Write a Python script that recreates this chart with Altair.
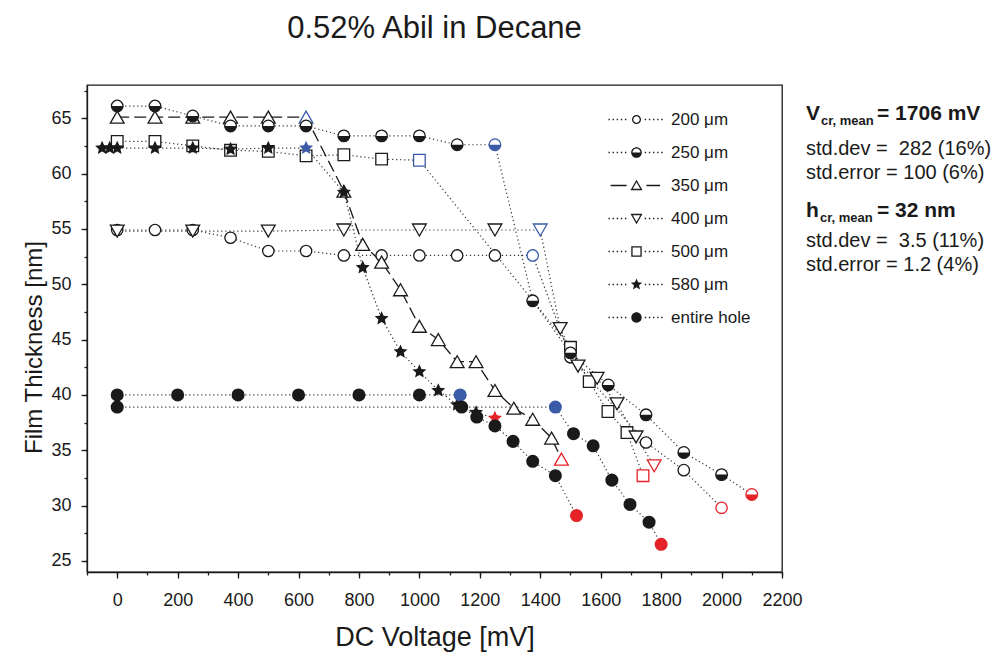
import altair as alt
import pandas as pd
import math

# ---------------- data ----------------
v200 = [0, 125, 250, 375, 500, 625, 750, 875, 1000, 1125, 1250, 1375, 1500, 1750, 1875, 2000]
h200 = [54.9, 54.9, 54.9, 54.2, 53.0, 53.0, 52.6, 52.6, 52.6, 52.6, 52.6, 52.6, 43.4, 35.7, 33.2, 29.8]
s200 = ['n'] * 11 + ['b'] + ['n'] * 3 + ['r']

v250 = [0, 125, 250, 375, 500, 625, 750, 875, 1000, 1125, 1250, 1375, 1500, 1625, 1750, 1875, 2000, 2100]
h250 = [66.1, 66.1, 65.2, 64.3, 64.3, 64.3, 63.4, 63.4, 63.4, 62.6, 62.6, 48.5, 43.8, 40.9, 38.2, 34.8, 32.8, 31.0]
s250 = ['n'] * 10 + ['b'] + ['n'] * 6 + ['r']

v350 = [0, 125, 250, 375, 500, 625, 750, 812.5, 875, 937.5, 1000, 1062.5, 1125, 1187.5, 1250, 1312.5, 1375, 1437.5, 1470]
h350 = [65.1, 65.1, 65.1, 65.1, 65.1, 65.1, 58.4, 53.6, 52.0, 49.5, 46.2, 45.0, 43.0, 43.0, 40.4, 38.8, 37.8, 36.1, 34.2]
s350 = ['n'] * 5 + ['b'] + ['n'] * 12 + ['r']

v400 = [0, 250, 500, 750, 1000, 1250, 1400, 1466, 1525, 1588, 1654, 1717, 1777]
h400 = [54.8, 54.8, 54.8, 54.9, 54.9, 54.9, 54.9, 46.0, 42.6, 41.5, 39.2, 36.2, 33.6]
s400 = ['n'] * 6 + ['b'] + ['n'] * 5 + ['r']

v500 = [0, 125, 250, 375, 500, 625, 750, 875, 1000, 1500, 1562, 1624, 1687, 1740]
h500 = [62.9, 62.9, 62.5, 62.1, 62.0, 61.6, 61.7, 61.3, 61.2, 44.3, 41.2, 38.5, 36.6, 32.7]
s500 = ['n'] * 8 + ['b'] + ['n'] * 4 + ['r']

v580 = [-50, -25, 0, 125, 250, 375, 500, 625, 750, 812.5, 875, 937.5, 1000, 1062.5, 1125, 1187.5, 1250]
h580 = [62.3, 62.3, 62.3, 62.3, 62.3, 62.2, 62.3, 62.3, 58.3, 51.5, 46.9, 43.9, 42.1, 40.4, 39.1, 38.4, 37.9]
s580 = ['n'] * 7 + ['b'] + ['n'] * 8 + ['r']

vholeA = [0, 200, 400, 600, 800, 1000, 1135, 1140, 1190, 1250, 1310, 1375, 1450, 1520]
hholeA = [40.0, 40.0, 40.0, 40.0, 40.0, 40.0, 40.0, 38.9, 38.0, 37.2, 35.8, 34.0, 32.7, 29.1]
sholeA = ['n'] * 6 + ['b'] + ['n'] * 6 + ['r']

vholeB = [0, 1450, 1510, 1575, 1637, 1697, 1760, 1800]
hholeB = [38.9, 38.9, 36.5, 35.4, 32.3, 30.1, 28.5, 26.5]
sholeB = ['n', 'b', 'n', 'n', 'n', 'n', 'n', 'r']

legend_labels = ['200 μm', '250 μm', '350 μm', '400 μm', '500 μm', '580 μm', 'entire hole']

x_major = list(range(0, 2201, 200))
x_minor = list(range(-100, 2201, 100))
y_major = list(range(25, 66, 5))
y_minor = [25 + 2.5 * i for i in range(18)]

series = [
    ('s200', '200 μm', v200, h200, s200),
    ('s250', '250 μm', v250, h250, s250),
    ('s350', '350 μm', v350, h350, s350),
    ('s400', '400 μm', v400, h400, s400),
    ('s500', '500 μm', v500, h500, s500),
    ('s580', '580 μm', v580, h580, s580),
    ('holeA', 'entire hole', vholeA, hholeA, sholeA),
    ('holeB', 'entire hole', vholeB, hholeB, sholeB),
]
rows = []
for key, label, vs, hs, ss in series:
    for i, (v, h, s) in enumerate(zip(vs, hs, ss)):
        rows.append(dict(series=key, label=label, v=v, h=h, state=s, order=i))
df = pd.DataFrame(rows)

# ---------------- styling ----------------
FONT = 'Liberation Sans'
BLACK = '#1a1a1a'
BLUE = '#3b5ba8'
RED = '#e52228'


# ---- custom symbol paths (unit coordinates) ----
def poly(pts):
    return 'M ' + ' L '.join(f'{x:.3f} {y:.3f}' for x, y in pts) + ' Z'


def inset(pts, w):
    n = len(pts)
    area = sum(pts[i][0] * pts[(i + 1) % n][1] - pts[(i + 1) % n][0] * pts[i][1] for i in range(n)) / 2
    lines = []
    for i in range(n):
        x1, y1 = pts[i]
        x2, y2 = pts[(i + 1) % n]
        dx, dy = x2 - x1, y2 - y1
        L = (dx * dx + dy * dy) ** 0.5
        nx, ny = -dy / L, dx / L
        if area < 0:
            nx, ny = -nx, -ny
        lines.append((x1 + nx * w, y1 + ny * w, dx, dy))
    out = []
    for i in range(n):
        ax, ay, adx, ady = lines[i - 1]
        bx, by, bdx, bdy = lines[i]
        den = adx * bdy - ady * bdx
        t = ((bx - ax) * bdy - (by - ay) * bdx) / den
        out.append((ax + adx * t, ay + ady * t))
    return out


def ring(pts, w):
    return poly(pts) + ' ' + poly(list(reversed(inset(pts, w))))


def circ(r, sweep):
    return f'M {r:.3f} 0 A {r:.3f} {r:.3f} 0 1 {sweep} {-r:.3f} 0 A {r:.3f} {r:.3f} 0 1 {sweep} {r:.3f} 0 Z'


def circ_ring(r, w):
    return circ(r, 1) + ' ' + circ(r - w, 0)


def dots(x0, x1, step=0.75, d=0.25):
    out = []
    x = x0
    while x <= x1 + 1e-9:
        out.append(poly([(x, -d / 2), (x + d, -d / 2), (x + d, d / 2), (x, d / 2)]))
        x += step
    return ' '.join(out)


def dash(x0, x1, d=0.25):
    return poly([(x0, -d / 2), (x1, -d / 2), (x1, d / 2), (x0, d / 2)])


def star_pts(R, r):
    pts = []
    for k in range(10):
        ang = -math.pi / 2 + k * math.pi / 5
        rad = R if k % 2 == 0 else r
        pts.append((rad * math.cos(ang), rad * math.sin(ang)))
    return pts


W = 0.24
DOTS = dots(-5.1, -1.6) + ' ' + dots(1.5, 4.6)
HALF_UNIT = 'M 1 0 A 1 1 0 0 1 -1 0 Z'
STAR_UNIT = poly(star_pts(1.0, 0.47))
legend_paths = [
    DOTS + ' ' + circ_ring(0.82, W),
    DOTS + ' ' + circ_ring(0.97, W) + ' M 0.97 0 A 0.97 0.97 0 0 1 -0.97 0 Z',
    dash(-4.7, -1.8) + ' ' + dash(1.8, 4.3) + ' ' + ring([(0, -1.05), (1.1, 0.85), (-1.1, 0.85)], W),
    DOTS + ' ' + ring([(0, 1.05), (-1.1, -0.85), (1.1, -0.85)], W),
    DOTS + ' ' + ring([(-0.95, -0.95), (0.95, -0.95), (0.95, 0.95), (-0.95, 0.95)], W),
    DOTS + ' ' + poly(star_pts(1.1, 0.48)),
    DOTS + ' ' + circ(0.95, 1),
]

# ---------------- encodings ----------------
XS = alt.Scale(domain=[-100, 2200], nice=False, zero=False)
YS = alt.Scale(domain=[24, 68], nice=False, zero=False)

X_main = alt.X('v:Q', title='DC Voltage [mV]', scale=XS,
               axis=alt.Axis(orient='bottom', values=x_major, format='d', labelOverlap=False,
                             labelFlush=False, tickSize=6, labelPadding=13, titlePadding=15,
                             titleFontSize=27))
Y_main = alt.Y('h:Q', title='Film Thickness [nm]', scale=YS,
               axis=alt.Axis(orient='left', values=y_major, format='d', labelOverlap=False,
                             labelFlush=False, tickSize=6, labelPadding=10, titlePadding=4,
                             titleFontSize=24, titleY=262))
X_min = alt.X('v:Q', scale=XS, axis=alt.Axis(orient='bottom', values=x_minor, labels=False,
                                             domain=False, tickSize=3, title=None))
Y_min = alt.Y('h:Q', scale=YS, axis=alt.Axis(orient='left', values=y_minor, labels=False,
                                             domain=False, tickSize=3, title=None))
X = alt.X('v:Q', scale=XS, axis=None)
Y = alt.Y('h:Q', scale=YS, axis=None)
C = alt.Color('state:N', scale=alt.Scale(domain=['n', 'b', 'r'], range=[BLACK, BLUE, RED]), legend=None)

base = alt.Chart(df)

dotted = base.transform_filter("datum.series != 's350'").mark_line(
    color='#333333', strokeWidth=1.2, strokeDash=[1.2, 2.8]
).encode(x=X_main, y=Y_main, detail='series:N', order='order:Q')

dashed = base.transform_filter("datum.series == 's350'").mark_line(
    color=BLACK, strokeWidth=1.3, strokeDash=[12, 5]
).encode(x=X, y=Y, order='order:Q')

minor_axes = base.transform_filter('datum.v < -99999').mark_point(opacity=0).encode(x=X_min, y=Y_min)


def open_pts(key, shape, size):
    return base.transform_filter(f"datum.series == '{key}'").mark_point(
        shape=shape, size=size, filled=False, fill='white', strokeWidth=1.3, opacity=1
    ).encode(x=X, y=Y, color=C)


def filled_pts(cond, shape, size):
    return base.transform_filter(cond).mark_point(
        shape=shape, size=size, filled=True, strokeWidth=0, opacity=1
    ).encode(x=X, y=Y, color=C)


squares = open_pts('s500', 'square', 135)
circles = open_pts('s200', 'circle', 130)
tri_down = open_pts('s400', 'triangle-down', 190)
tri_up = open_pts('s350', 'triangle-up', 190)
halves_o = open_pts('s250', 'circle', 135)
halves_f = filled_pts("datum.series == 's250'", HALF_UNIT, 135)
stars = filled_pts("datum.series == 's580'", STAR_UNIT, 215)
holes = filled_pts("datum.series == 'holeA' || datum.series == 'holeB'", 'circle', 170)

legend_layer = base.transform_filter('datum.v < -99999').mark_point(
    filled=True, opacity=1, color=BLACK, strokeWidth=0, size=121
).encode(
    x=X, y=Y,
    shape=alt.Shape('label:N', scale=alt.Scale(domain=legend_labels, range=legend_paths),
                    legend=alt.Legend(orient='none', legendX=541, legendY=26, title=None,
                                      symbolSize=121, symbolFillColor=BLACK, symbolStrokeWidth=0,
                                      symbolOpacity=1, labelFont=FONT, labelFontSize=17,
                                      labelColor=BLACK, labelOffset=26, rowPadding=15, padding=0))
)

OX, OY = 87, 85  # plot origin on the page


def txt(s, px, py, size, bold):
    return alt.Chart(alt.Data(values=[{}])).mark_text(
        text=s, align='left', baseline='alphabetic', fontSize=size,
        fontWeight='bold' if bold else 'normal', font=FONT, color=BLACK
    ).encode(x=alt.value(px - OX), y=alt.value(py - OY))


notes = [
    txt('V', 806, 120, 21, True),
    txt('cr, mean', 821, 125, 13, True),
    txt('= 1706 mV', 877, 120, 21, True),
    txt('std.dev = \u00a0282 (16%)', 806, 155, 20, False),
    txt('std.error = 100 (6%)', 806, 179, 20, False),
    txt('h', 806, 217, 21, True),
    txt('cr, mean', 820, 222, 13, True),
    txt('= 32 nm', 877, 217, 21, True),
    txt('std.dev = \u00a03.5 (11%)', 806, 247, 20, False),
    txt('std.error = 1.2 (4%)', 806, 271, 20, False),
]

chart = alt.layer(
    dotted, minor_axes, dashed, squares, circles, tri_down, tri_up, halves_o, halves_f, stars, holes,
    legend_layer, *notes
).resolve_axis(x='independent', y='independent').properties(
    width=695, height=487,
    autosize=alt.AutoSizeParams(type='none'),
    padding={'left': 79, 'top': 77, 'right': 209, 'bottom': 80},
    title=alt.TitleParams('0.52% Abil in Decane', fontSize=31, font=FONT, fontWeight='normal',
                          anchor='middle', color=BLACK, offset=40),
).configure_view(
    stroke=BLACK, strokeWidth=1.3
).configure_axis(
    domainColor=BLACK, domainWidth=1.3, tickColor=BLACK, tickWidth=1.3,
    labelFont=FONT, titleFont=FONT, labelFontSize=18, titleFontSize=22,
    labelColor=BLACK, titleColor=BLACK, titleFontWeight='normal', grid=False
)

chart.save('out.html', embed_options={'renderer': 'svg', 'actions': False})
